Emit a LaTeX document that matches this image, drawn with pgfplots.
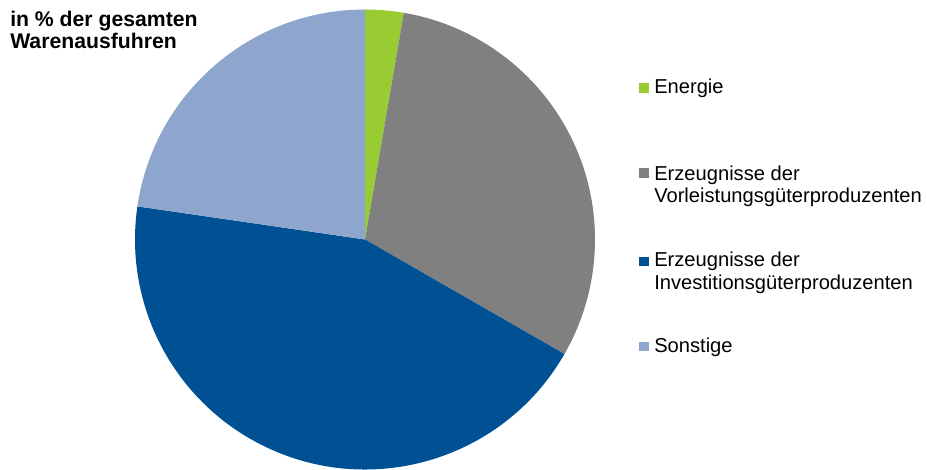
\documentclass[border=0pt]{standalone}
\usepackage{pgfplots}
\pgfplotsset{compat=1.18}
\usepackage{pgfplotstable}
\usepackage{fontspec}
\setmainfont{Liberation Sans}
\definecolor{cEn}{RGB}{153,204,51}
\definecolor{cVor}{RGB}{128,128,128}
\definecolor{cInv}{RGB}{0,80,148}
\definecolor{cSon}{RGB}{142,165,206}

\pgfplotstableread[col sep=comma]{
idx,value
0,2.7
1,30.6
2,44.0
3,22.7
}\piedata

\pgfplotstablegetelem{0}{value}\of\piedata \let\vA\pgfplotsretval
\pgfplotstablegetelem{1}{value}\of\piedata \let\vB\pgfplotsretval
\pgfplotstablegetelem{2}{value}\of\piedata \let\vC\pgfplotsretval
\pgfplotstablegetelem{3}{value}\of\piedata \let\vD\pgfplotsretval
\pgfmathsetmacro\aO{90}
\pgfmathsetmacro\aA{\aO-3.6*\vA}
\pgfmathsetmacro\aB{\aA-3.6*\vB}
\pgfmathsetmacro\aC{\aB-3.6*\vC}
\pgfmathsetmacro\aD{\aC-3.6*\vD}

\begin{document}
\begin{tikzpicture}
\begin{axis}[
  scale only axis,
  width=695.25pt, height=352.5pt,
  xmin=0, xmax=927, ymin=0, ymax=470,
  axis lines=none, clip=false,
]
\path[use as bounding box] (axis cs:0,0) rectangle (axis cs:927,470);
% pie (centre 365,230.5 ; radius 230)
\fill[cEn]  (axis cs:365,230.5) -- ++(\aO:172.5pt) arc[start angle=\aO, end angle=\aA, radius=172.5pt] -- cycle;
\fill[cVor] (axis cs:365,230.5) -- ++(\aA:172.5pt) arc[start angle=\aA, end angle=\aB, radius=172.5pt] -- cycle;
\fill[cInv] (axis cs:365,230.5) -- ++(\aB:172.5pt) arc[start angle=\aB, end angle=\aC, radius=172.5pt] -- cycle;
\fill[cSon] (axis cs:365,230.5) -- ++(\aC:172.5pt) arc[start angle=\aC, end angle=\aD, radius=172.5pt] -- cycle;
% title
\node[anchor=base west, inner sep=0pt, font=\fontsize{15.9pt}{18pt}\selectfont\bfseries] at (axis cs:10,443) {in \% der gesamten};
\node[anchor=base west, inner sep=0pt, font=\fontsize{15.9pt}{18pt}\selectfont\bfseries] at (axis cs:10,421) {Warenausfuhren};
% legend
\fill[cEn]  (axis cs:639,387) rectangle (axis cs:649,377);
\fill[cVor] (axis cs:639,302) rectangle (axis cs:649,292);
\fill[cInv] (axis cs:639,213) rectangle (axis cs:649,204);
\fill[cSon] (axis cs:639,128) rectangle (axis cs:649,119);
\begin{scope}[every node/.style={anchor=base west, inner sep=0pt, font=\fontsize{15.1pt}{17pt}\selectfont}]
\node at (axis cs:654,376) {Energie};
\node at (axis cs:654,289) {Erzeugnisse der};
\node at (axis cs:654,267) {Vorleistungsgüterproduzenten};
\node at (axis cs:654,203) {Erzeugnisse der};
\node at (axis cs:654,180) {Investitionsgüterproduzenten};
\node at (axis cs:654,117) {Sonstige};
\end{scope}
\end{axis}
\end{tikzpicture}
\end{document}
